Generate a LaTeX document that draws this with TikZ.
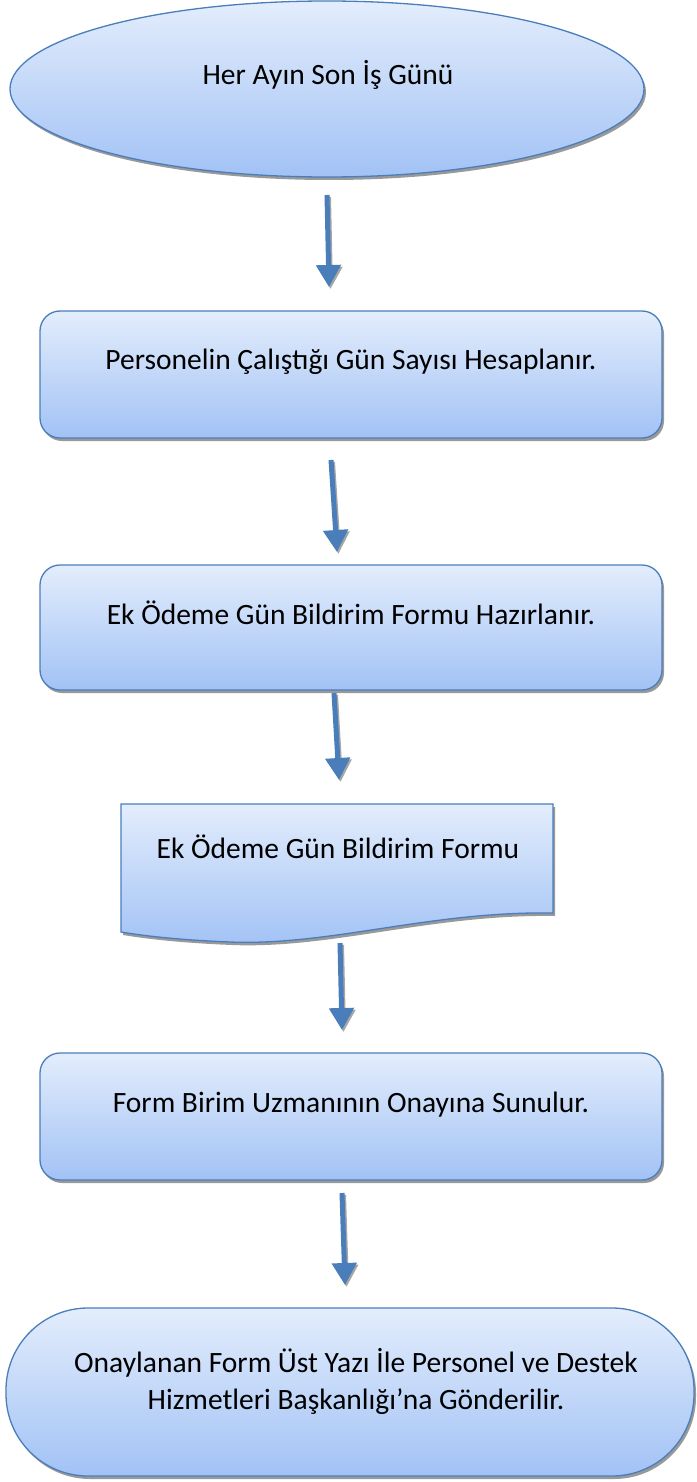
\documentclass[tikz,border=0pt]{standalone}
\usepackage{fontspec}
\setmainfont{Carlito}
\usetikzlibrary{shapes.geometric,shadows,arrows.meta}
\definecolor{edge}{HTML}{4A7EBB}
\definecolor{topc}{HTML}{E3EDFC}
\definecolor{botc}{HTML}{A2C2F5}
\tikzset{
  blockfill/.style={draw=edge, line width=1.3pt, top color=topc, bottom color=botc,
    drop shadow={shadow xshift=2pt, shadow yshift=-3pt, fill=black!40, opacity=1}},
  caption/.style={font=\fontsize{29.5}{37}\selectfont, align=center, inner sep=0pt},
  flow/.style={draw=edge, line width=5pt, -{Triangle[width=24pt,length=22pt]}},
  flowshadow/.style={draw=black!35, line width=5pt, -{Triangle[width=24pt,length=22pt]},
    transform canvas={xshift=1.5pt, yshift=-2pt}},
}
\begin{document}
\begin{tikzpicture}[x=1pt,y=-1pt]
\useasboundingbox (0,0) rectangle (696,1482);

% start terminal
\node[blockfill, ellipse, minimum width=634pt, minimum height=176pt, inner sep=0pt] (start) at (327,89) {};
\node[caption] (tstart) at (328,75) {Her Ayın Son İş Günü};

% process steps
\node[blockfill, rectangle, rounded corners=20pt, minimum width=622pt, minimum height=127pt] (count) at (351,374.5) {};
\node[caption] (tcount) at (351,362) {Personelin Çalıştığı Gün Sayısı Hesaplanır.};

\node[blockfill, rectangle, rounded corners=20pt, minimum width=622pt, minimum height=125pt] (prep) at (351,627.5) {};
\node[caption] (tprep) at (351,613) {Ek Ödeme Gün Bildirim Formu Hazırlanır.};

% document symbol
\path[blockfill] (121,804) -- (553,804) -- (553,913)
  .. controls (430,911) and (330,946) .. (230,942)
  .. controls (180,940) and (145,936) .. (121,932) -- cycle;
\node[caption] (doc) at (338,847) {Ek Ödeme Gün Bildirim Formu};

\node[blockfill, rectangle, rounded corners=20pt, minimum width=622pt, minimum height=127pt] (submit) at (351,1116.5) {};
\node[caption] (tsubmit) at (351,1105) {Form Birim Uzmanının Onayına Sunulur.};

% end terminal
\node[blockfill, rectangle, rounded corners=82pt, minimum width=688pt, minimum height=168pt] (finish) at (350,1392) {};
\node[caption] (tfinish) at (356,1381) {Onaylanan Form Üst Yazı İle Personel ve Destek\\Hizmetleri Başkanlığı’na Gönderilir.};

% connector end points
\coordinate (a1s) at (327,195);  \coordinate (a1e) at (329,287);
\coordinate (a2s) at (331,460);  \coordinate (a2e) at (337,552);
\coordinate (a3s) at (334,693);  \coordinate (a3e) at (339,780);
\coordinate (a4s) at (340,943);  \coordinate (a4e) at (342,1030);
\coordinate (a5s) at (342,1193); \coordinate (a5e) at (345,1285);

\foreach \s/\e in {a1s/a1e, a2s/a2e, a3s/a3e, a4s/a4e, a5s/a5e} {
  \draw[flowshadow] (\s) -- (\e);
  \draw[flow] (\s) -- (\e);
}
\end{tikzpicture}
\end{document}
